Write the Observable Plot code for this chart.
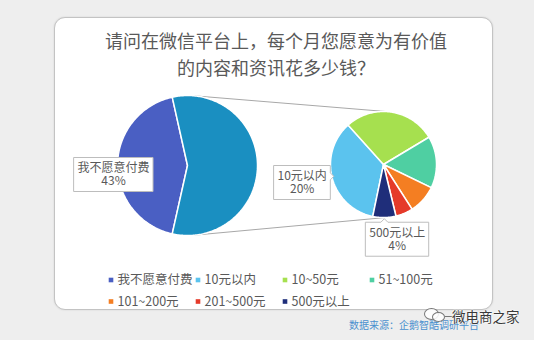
<!DOCTYPE html>
<html><head><meta charset="utf-8">
<script src="https://cdn.jsdelivr.net/npm/d3@7"></script>
<script src="https://cdn.jsdelivr.net/npm/@observablehq/plot@0.6"></script>
<style>
html,body{margin:0;padding:0}
body{width:534px;height:340px;background:#eeeeee;position:relative;overflow:hidden;font-family:"Noto Sans CJK SC","Noto Sans",sans-serif}
#card{position:absolute;left:54px;top:17px;width:437px;height:291px;background:#fff;border:1px solid #c3c3c3;border-radius:11px;box-shadow:0 0 2px rgba(0,0,0,.12)}
#title{position:absolute;left:76px;top:27px;width:400px;text-align:center;font-size:18px;line-height:26.7px;color:#595959;white-space:nowrap}
#chart{position:absolute;left:0;top:85px}
#source{position:absolute;left:349px;top:318px;font-size:10px;line-height:13px;color:#4a90cf;white-space:nowrap}
#wm span{position:absolute;display:block}
#wm .e1{left:424px;top:308px;width:13px;height:10px;border:1.3px solid #777;border-radius:50%;background:rgba(255,255,255,.85)}
#wm .e2{left:432px;top:312px;width:11px;height:8px;border:1.3px solid #777;border-radius:50%;background:rgba(255,255,255,.85)}
#wm .dash{left:445px;top:316px;width:8px;height:1.3px;background:#777}
#wm .wt{left:452px;top:307px;font-size:13.5px;line-height:18px;color:#3a3a3a;white-space:nowrap;text-shadow:0 0 2px #fff,0 0 2px #fff,0 0 1px #fff}
</style></head><body>
<div id="card"></div>
<div id="title"></div>
<div id="chart"></div>
<div id="source"></div>
<div id="wm"><span class="e1"></span><span class="e2"></span><span class="dash"></span><span class="wt"></span></div>
<script>
// ---- data ----
const titleLines = ["请问在微信平台上，每个月您愿意为有价值", "的内容和资讯花多少钱？"];
const sourceText = "数据来源：企鹅智酷调研平台";
const watermarkText = "微电商之家";
const bigCategories = ["我不愿意付费", "其他"];
const bigValues = [43, 57];
const smallCategories = ["10元以内", "10~50元", "51~100元", "101~200元", "201~500元", "500元以上"];
const smallValues = [20, 16, 9, 5, 3, 4];
const legendCategories = ["我不愿意付费", "10元以内", "10~50元", "51~100元", "101~200元", "201~500元", "500元以上"];
const labeledCategories = ["我不愿意付费", "10元以内", "500元以上"];

// ---- styles ----
const colorKeys = [...bigCategories, ...smallCategories];
const colorValues = ["#4a5fc3", "#1a8fc1", "#5bc3ee", "#a6e04f", "#4fcfa2", "#f47e22", "#e53a2a", "#1f2e7a"];
const textColor = "#595959";

document.getElementById("title").innerHTML = titleLines.join("<br>");
document.getElementById("source").textContent = sourceText;
document.querySelector("#wm .wt").textContent = watermarkText;

// ---- layout ----
const TOP = 85;
const W = 534, H = 232;
const BIG = {cx: 187, cy: 165 - TOP, r: 70};
const SMALL = {cx: 383, cy: 164 - TOP, r: 53};
const SMALL_START = 191.7 * Math.PI / 180;
const labelLayout = {
  "我不愿意付费": {f: 1.057, dx: 0, dy: 9, ptr: null},
  "10元以内": {f: 1.59, dx: 0, dy: -4, ptr: "right"},
  "500元以上": {f: 1.41, dx: 12.5, dy: 0, ptr: "top"}
};
const LEG = {x0: 110.5, dx: 87, y0: 279.5 - TOP, dy: 21.5, perRow: 4};

function makeSlices(cats, vals, pie, start) {
  const arcs = d3.pie().sort(null).startAngle(start).endAngle(start + 2 * Math.PI)(vals);
  return arcs.map((a, i) => ({key: cats[i], value: vals[i], a0: a.startAngle, a1: a.endAngle, pie}));
}
const total = d3.sum(bigValues);
const otherShare = bigValues[1] / total;
const bigSlices = makeSlices(bigCategories, bigValues, BIG, Math.PI / 2 + otherShare * Math.PI);
const smallSlices = makeSlices(smallCategories, smallValues, SMALL, SMALL_START);
const allSlices = [...bigSlices, ...smallSlices];

const pt = (p, a, f = 1) => ({x: p.cx + p.r * f * Math.sin(a), y: p.cy - p.r * f * Math.cos(a)});

const slicePts = allSlices.flatMap(s => {
  const n = Math.max(2, Math.ceil((s.a1 - s.a0) / (Math.PI / 180)));
  const out = [{key: s.key, x: s.pie.cx, y: s.pie.cy}];
  for (let k = 0; k <= n; k++) {
    const a = s.a0 + (s.a1 - s.a0) * k / n;
    out.push({key: s.key, ...pt(s.pie, a)});
  }
  return out;
});

function tangents(c1, c2) {
  const dx = c2.cx - c1.cx, dy = c2.cy - c1.cy, d = Math.hypot(dx, dy);
  const base = Math.atan2(dy, dx), phi = Math.acos((c1.r - c2.r) / d);
  return [-1, 1].map(s => {
    const t = base + s * phi, nx = Math.cos(t), ny = Math.sin(t);
    return {x1: c1.cx + c1.r * nx, y1: c1.cy + c1.r * ny, x2: c2.cx + c2.r * nx, y2: c2.cy + c2.r * ny};
  });
}
const connectors = tangents(BIG, SMALL);

const ctx = document.createElement("canvas").getContext("2d");
ctx.font = "12px 'Noto Sans CJK SC'";
const tw = s => ctx.measureText(s).width;

const labels = labeledCategories.map(k => {
  const s = allSlices.find(d => d.key === k);
  const L = labelLayout[k];
  const mid = (s.a0 + s.a1) / 2;
  const p = pt(s.pie, mid, L.f);
  const edge = pt(s.pie, mid, 1);
  const pct = Math.round(s.value / total * 100) + "%";
  const w = Math.max(tw(k), tw(pct)) + 7, h = 34;
  const cx = p.x + L.dx, cy = p.y + L.dy;
  return {key: k, text: k + "\n" + pct, cx, cy, w, h, edge, ptr: L.ptr};
});
const clamp = (v, a, b) => Math.max(a, Math.min(b, v));
const boxPts = labels.flatMap(l => {
  const x0 = l.cx - l.w / 2, x1 = l.cx + l.w / 2, y0 = l.cy - l.h / 2, y1 = l.cy + l.h / 2, p = 3.5;
  let pts;
  if (l.ptr === "right") {
    const py = clamp(l.edge.y - 2, y0 + 5, y1 - 5);
    pts = [[x0, y0], [x1, y0], [x1, py - p], [x1 + p, py], [x1, py + p], [x1, y1], [x0, y1]];
  } else if (l.ptr === "top") {
    const px = clamp(l.edge.x, x0 + 5, x1 - 5);
    pts = [[x0, y0], [px - p, y0], [px, y0 - p], [px + p, y0], [x1, y0], [x1, y1], [x0, y1]];
  } else {
    pts = [[x0, y0], [x1, y0], [x1, y1], [x0, y1]];
  }
  return pts.map(([x, y]) => ({key: l.key, x, y}));
});

const legendItems = legendCategories.map((k, i) => ({
  key: k,
  lx: LEG.x0 + (i % LEG.perRow) * LEG.dx,
  ly: LEG.y0 + Math.floor(i / LEG.perRow) * LEG.dy
}));

const chart = Plot.plot({
  width: W, height: H,
  margin: 0,
  x: {domain: [0, W], range: [0, W], axis: null},
  y: {domain: [0, H], range: [0, H], axis: null},
  color: {domain: colorKeys, range: colorValues},
  style: {background: "transparent", fontFamily: "'Noto Sans CJK SC', sans-serif", overflow: "visible"},
  marks: [
    Plot.link(connectors, {x1: "x1", y1: "y1", x2: "x2", y2: "y2", stroke: "#a8a8a8", strokeWidth: 1}),
    Plot.line(slicePts, {x: "x", y: "y", z: "key", fill: "key", stroke: "white", strokeWidth: 1.5, strokeLinejoin: "miter", curve: "linear-closed"}),
    Plot.line(boxPts, {x: "x", y: "y", z: "key", fill: "white", stroke: "#bdbdbd", strokeWidth: 1, strokeLinejoin: "miter", curve: "linear-closed"}),
    Plot.text(labels, {x: "cx", y: "cy", text: "text", fontSize: 12, lineHeight: 1.05, fill: textColor}),
    Plot.dot(legendItems, {x: "lx", y: "ly", symbol: "square", r: 2.6, fill: "key", stroke: null}),
    Plot.text(legendItems, {x: "lx", y: "ly", text: "key", textAnchor: "start", dx: 6.5, fontSize: 12.5, fill: textColor})
  ]
});
document.getElementById("chart").appendChild(chart);
</script>
</body></html>
